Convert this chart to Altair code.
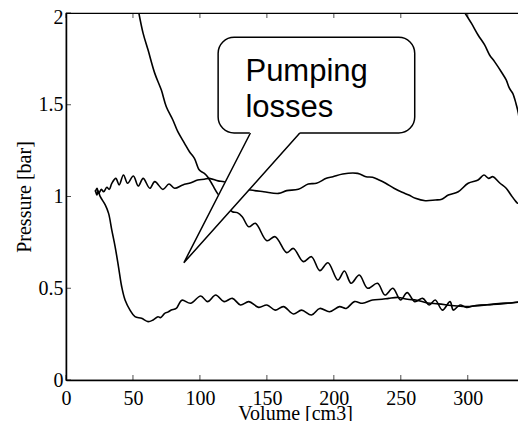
import altair as alt
import pandas as pd

# ---- curve data (Volume [cm3], Pressure [bar]) ----
exhaust_x = [341.5, 339.3, 337.3, 336.0, 332.3, 328.7, 323.7, 318.8, 315.6, 312.1, 307.7, 300.3, 292.9,
             285.5, 280.6, 275.7, 268.3, 260.9, 256.0, 251.0, 244.9, 238.7, 233.8, 228.9, 224.0, 217.8,
             206.7, 199.3, 194.4, 187.0, 180.9, 173.5, 164.8, 158.7, 147.6, 137.7, 131.0, 125.0, 118.0,
             113.6, 107.0, 103.3, 98.3, 93.3, 87.2, 81.1, 76.9, 72.4, 66.3, 62.6, 57.6, 54.0, 50.3, 46.0,
             42.9, 39.7, 37.2, 34.2, 32.3, 30.5, 28.1, 26.4, 24.4, 23.2, 21.9]
exhaust_y = [1.05, 0.99, 0.963, 0.972, 1.008, 1.045, 1.075, 1.108, 1.099, 1.117, 1.09, 1.072, 1.026,
             1.008, 0.985, 0.981, 0.977, 0.99, 1.008, 1.023, 1.045, 1.072, 1.09, 1.105, 1.108, 1.126,
             1.123, 1.108, 1.099, 1.072, 1.068, 1.039, 1.032, 1.017, 1.026, 1.035, 1.045, 1.06, 1.08,
             1.085, 1.099, 1.094, 1.09, 1.075, 1.063, 1.045, 1.068, 1.039, 1.081, 1.045, 1.099, 1.057, 1.112, 1.072,
             1.117, 1.063, 1.099, 1.072, 1.039, 1.05, 1.026, 1.039, 1.017, 1.045, 1.026]

intake_x = [21.9, 23.1, 24.0, 25.6, 29.3, 31.8, 34.2, 36.7, 39.2, 41.6, 44.1, 47.8, 51.5, 56.4, 61.3,
            65.0, 68.7, 70.5, 73.7, 76.0, 78.6, 82.3, 86.5, 93.0, 100.6, 105.7, 111.8, 118.0, 124.2,
            130.3, 136.5, 143.9, 150.0, 156.2, 162.4, 169.8, 175.9, 183.3, 189.5, 196.8, 204.2, 209.2,
            215.3, 221.5, 228.9, 236.0, 241.0, 248.0, 255.0, 262.0, 270.0, 278.0, 290.0, 300.0, 312.0,
            325.0, 339.0, 342.0]
intake_y = [1.035, 1.008, 1.03, 0.999, 0.954, 0.908, 0.817, 0.726, 0.617, 0.508, 0.436, 0.381, 0.345,
            0.336, 0.318, 0.327, 0.345, 0.34, 0.363, 0.37, 0.381, 0.39, 0.435, 0.418, 0.458, 0.427, 0.463,
            0.427, 0.445, 0.409, 0.427, 0.396, 0.409, 0.381, 0.4, 0.36, 0.381, 0.354, 0.39, 0.372, 0.4,
            0.39, 0.427, 0.418, 0.436, 0.44, 0.445, 0.45, 0.44, 0.435, 0.42, 0.415, 0.405, 0.4, 0.408,
            0.415, 0.425, 0.428]

compression_x = [342.0, 339.5, 332.0, 325.0, 318.0, 312.6, 305.0, 299.1, 294.2, 289.2, 286.8, 281.1,
                 275.7, 271.2, 266.3, 260.4, 254.8, 249.8, 244.1, 238.2, 232.6, 225.2, 219.0, 212.9,
                 207.9, 203.0, 195.6, 189.5, 183.3, 177.2, 169.8, 164.8, 156.2, 150.0, 141.4, 136.5,
                 131.6, 127.9, 124.2, 120.0, 116.0, 113.1, 109.4, 105.7, 103.3, 99.6, 95.9, 92.2, 88.5,
                 83.5, 79.8, 74.9, 71.2, 66.3, 61.3, 57.6, 54.4]
compression_y = [0.43, 0.427, 0.42, 0.418, 0.412, 0.409, 0.405, 0.396, 0.409, 0.381, 0.427, 0.381,
                 0.436, 0.409, 0.445, 0.427, 0.476, 0.436, 0.5, 0.463, 0.527, 0.5, 0.572, 0.527,
                 0.594, 0.545, 0.639, 0.596, 0.672, 0.645, 0.717, 0.694, 0.781, 0.759, 0.854, 0.835,
                 0.89, 0.912, 0.917, 0.95, 0.99, 1.017, 1.063, 1.108, 1.126, 1.144, 1.208, 1.244, 1.29,
                 1.353, 1.417, 1.489, 1.58, 1.671, 1.798, 1.889, 2.0]

expansion_x = [297.9, 302.8, 307.7, 312.6, 316.3, 320.0, 325.0, 328.7, 331.1, 333.6, 336.0, 337.8,
               339.0, 340.5, 341.5, 342.0]
expansion_y = [2.0, 1.943, 1.88, 1.826, 1.771, 1.735, 1.68, 1.635, 1.59, 1.562, 1.507, 1.453,
               1.38, 1.28, 1.15, 1.05]

x_ticks = [0, 50, 100, 150, 200, 250, 300]
y_ticks = [0, 0.5, 1, 1.5, 2]

# callout annotation (data units)
box_x = [113.6, 260.4]
box_y = [1.346, 1.868]
pointer_x = [137.7, 88.0, 174.6]
pointer_y = [1.346, 0.639, 1.346]
label_lines = ["Pumping", "losses"]
label_x = [134.0, 134.0]
label_y = [1.629, 1.432]

XMAX = 342

rows = []
for name, xs, ys in [("exhaust", exhaust_x, exhaust_y), ("intake", intake_x, intake_y),
                     ("compression", compression_x, compression_y),
                     ("expansion", expansion_x, expansion_y)]:
    for i, (a, b) in enumerate(zip(xs, ys)):
        rows.append({"series": name, "i": i, "x": a, "y": b})
curves = pd.DataFrame(rows)

xscale = alt.Scale(domain=[0, XMAX], nice=False, zero=False)
yscale = alt.Scale(domain=[0, 2], nice=False)
serif = "Liberation Serif"

x_axis = alt.Axis(values=x_ticks, ticks=False, grid=False, labelPadding=8,
                  title="Volume [cm3]", titleY=39.5, titleBaseline="alphabetic", labelFlush=False)
y_axis = alt.Axis(values=y_ticks, format="~g", ticks=False, grid=False, labelPadding=3,
                  labelOffset={"condition": {"test": "datum.value == 2", "value": 4}, "value": 0},
                  title="Pressure [bar]", titleAngle=270, titleX=-36,
                  titleY=183.5, titleAlign="center", titleBaseline="alphabetic", labelFlush=False)

lines = alt.Chart(curves).mark_line(color="black", strokeWidth=1.6, interpolate="catmull-rom",
                                    clip=True).encode(
    x=alt.X("x:Q", scale=xscale, axis=x_axis),
    y=alt.Y("y:Q", scale=yscale, axis=y_axis),
    detail="series:N",
    order="i:Q",
)

box_df = pd.DataFrame({"x": [box_x[0]], "x2": [box_x[1]], "y": [box_y[0]], "y2": [box_y[1]]})
box = alt.Chart(box_df).mark_rect(fill="white", stroke="black", strokeWidth=1.5, cornerRadius=16).encode(
    x="x:Q", x2="x2:Q", y="y:Q", y2="y2:Q")

tri_df = pd.DataFrame({"y": [pointer_y[0] + 0.006, pointer_y[1]],
                       "x": [pointer_x[0] - 0.3, pointer_x[1]],
                       "x2": [pointer_x[2] + 0.3, pointer_x[1]]})
tri_fill = alt.Chart(tri_df).mark_area(orient="horizontal", color="white", opacity=1).encode(
    y="y:Q", x="x:Q", x2="x2:Q")

ptr_df = pd.DataFrame({"x": pointer_x, "y": pointer_y, "i": [0, 1, 2]})
ptr = alt.Chart(ptr_df).mark_line(color="black", strokeWidth=1.5, strokeJoin="miter").encode(
    x="x:Q", y="y:Q", order="i:Q")

txt_df = pd.DataFrame({"x": label_x, "y": label_y, "t": label_lines})
txt = alt.Chart(txt_df).mark_text(align="left", baseline="alphabetic", font="Liberation Sans",
                                  fontSize=31, color="black").encode(x="x:Q", y="y:Q", text="t:N")

xt = pd.DataFrame({"x": x_ticks})
yt = pd.DataFrame({"y": y_ticks})
tick_b = alt.Chart(xt).mark_tick(orient="vertical", size=5, thickness=1, color="black", yOffset=-2.5).encode(
    x="x:Q", y=alt.Y(datum=0))
tick_t = alt.Chart(xt).mark_tick(orient="vertical", size=5, thickness=1, color="black", yOffset=2.5).encode(
    x="x:Q", y=alt.Y(datum=2))
tick_l = alt.Chart(yt).mark_tick(orient="horizontal", size=5, thickness=1, color="black", xOffset=2.5).encode(
    y="y:Q", x=alt.X(datum=0))
tick_r = alt.Chart(yt).mark_tick(orient="horizontal", size=5, thickness=1, color="black", xOffset=-2.5).encode(
    y="y:Q", x=alt.X(datum=XMAX))

chart = alt.layer(lines, box, tri_fill, ptr, txt, tick_b, tick_t, tick_l, tick_r).properties(
    width=458, height=367,
    autosize=alt.AutoSizeParams(type="none"),
    padding={"left": 58, "top": 5, "right": -6, "bottom": 45},
    background="white",
).configure_view(stroke="black", strokeWidth=1.2).configure_axis(
    labelFont=serif, labelFontSize=20, labelColor="black",
    titleFont=serif, titleFontSize=20, titleFontWeight="normal", titleColor="black",
    domainColor="black", domainWidth=1.5,
)

chart.save("out.html", embed_options={"renderer": "svg", "actions": False})
